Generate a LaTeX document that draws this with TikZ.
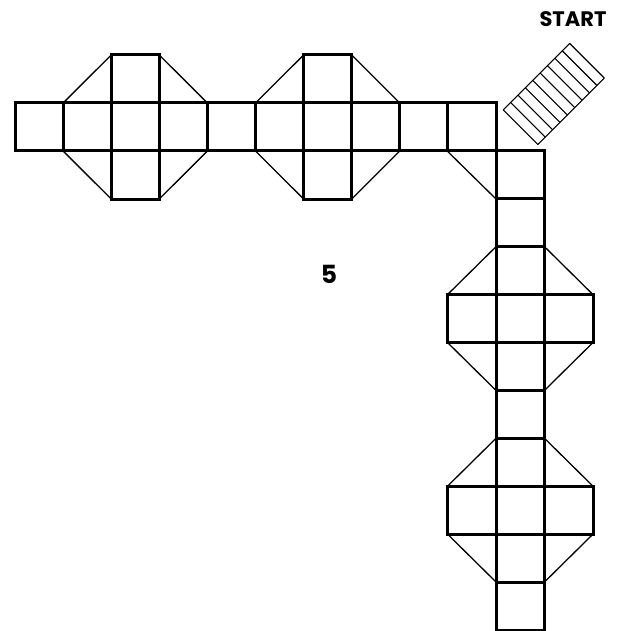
\documentclass[tikz,border=0pt]{standalone}
\usepackage{fontspec}
\setsansfont{Poppins}
\begin{document}
\begin{tikzpicture}[x=1pt,y=-1pt,
  cellline/.style={line width=3pt},
  thinline/.style={line width=1.3pt},
  rungline/.style={line width=1.1pt, line join=round},
  lbl/.style={font=\sffamily\bfseries, inner sep=0pt}]
\fill[white] (0,0) rectangle (617,631);
\useasboundingbox (0,0) rectangle (617,631);
% horizontal row of squares
\foreach \i in {0,...,9}
  \draw[cellline] ({15+48.1*\i},103) rectangle ++(48.1,48);
% the two horizontal octagons
\foreach \o in {0,192.4}{
  \draw[cellline] ({111.2+\o},55) rectangle ({159.3+\o},103);
  \draw[cellline] ({111.2+\o},151) rectangle ({159.3+\o},199);
  \draw[thinline] ({63.1+\o},103) -- ({111.2+\o},55);
  \draw[thinline] ({159.3+\o},55) -- ({207.4+\o},103);
  \draw[thinline] ({63.1+\o},151) -- ({111.2+\o},199);
  \draw[thinline] ({159.3+\o},199) -- ({207.4+\o},151);
}
% vertical column of squares
\foreach \j in {0,...,9}
  \draw[cellline] (496,{151+47.9*\j}) rectangle ++(48.5,47.9);
% the two vertical octagons
\foreach \y in {294.6,486.2}{
  \draw[cellline] (447.5,\y) rectangle (496,{\y+47.9});
  \draw[cellline] (544.5,\y) rectangle (593,{\y+47.9});
  \draw[thinline] (447.5,\y) -- (496,{\y-47.9});
  \draw[thinline] (544.5,{\y-47.9}) -- (593,\y);
  \draw[thinline] (447.5,{\y+47.9}) -- (496,{\y+95.8});
  \draw[thinline] (544.5,{\y+95.8}) -- (593,{\y+47.9});
}
% corner
\draw[cellline] (496,103) -- (496,151);
\draw[thinline] (447.2,151) -- (496,199);
% start ladder
\begin{scope}[shift={(520.5pt,-127.2pt)}, x={(0.7071pt,0.7071pt)}, y={(0.7071pt,-0.7071pt)}]
  \draw[rungline] (0,-24.5) -- (94,-24.5) -- (94,24.5) -- (0,24.5) -- cycle;
  \foreach \k in {1,...,8}
    \draw[rungline] ({94/9*\k},-24.5) -- ({94/9*\k},24.5);
\end{scope}
% labels
\node[lbl, font=\sffamily\bfseries\fontsize{21}{21}\selectfont] (start) at (573,19) {START};
\node[lbl, font=\sffamily\bfseries\fontsize{25}{25}\selectfont] (num) at (329,274) {5};
\end{tikzpicture}
\end{document}
